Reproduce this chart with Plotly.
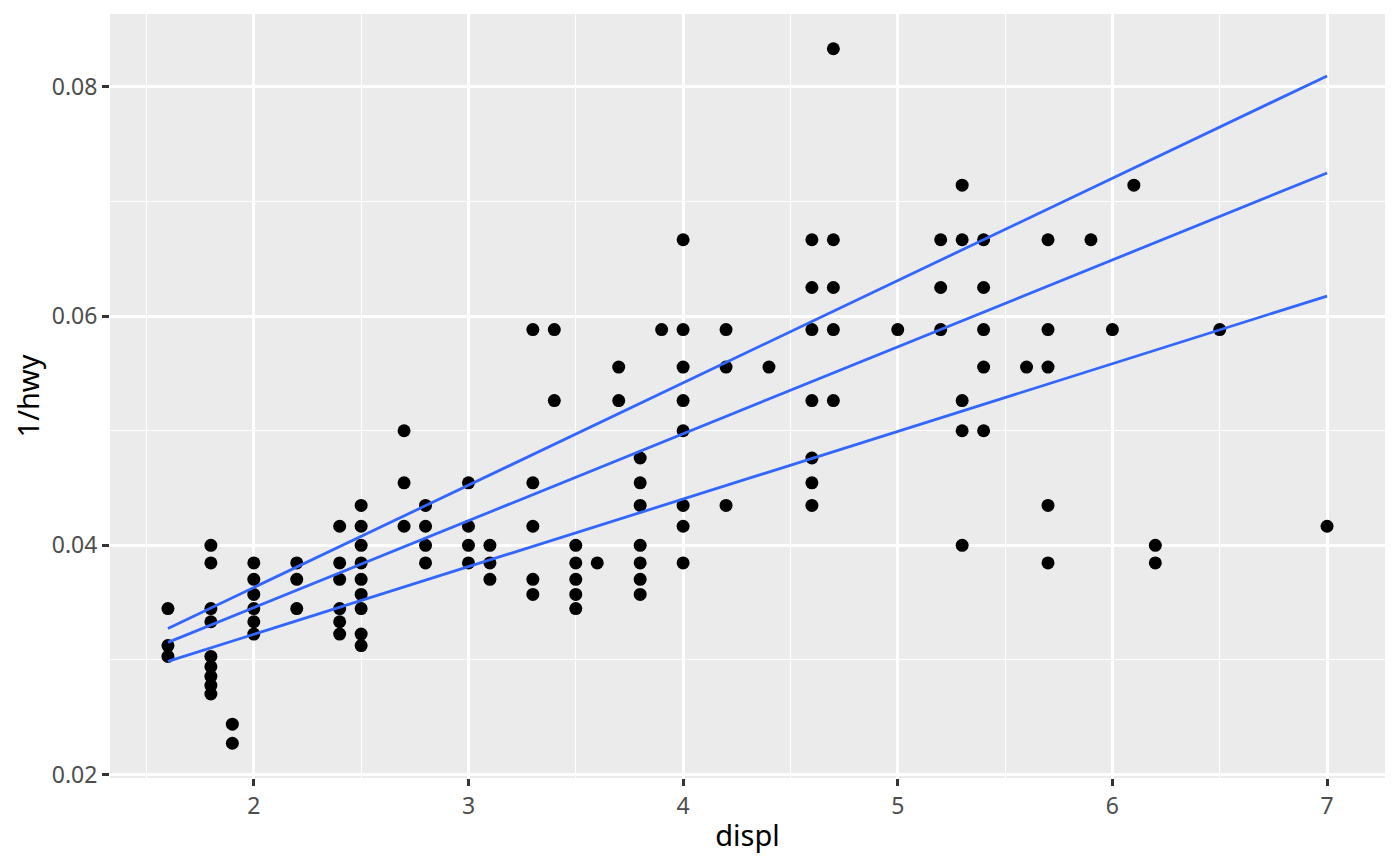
import plotly.graph_objects as go

# Observed (displ, hwy) points; y is plotted as 1/hwy
displ = (
    [1.6] * 3 + [1.8] * 9 + [1.9] * 2 + [2.0] * 6 + [2.2] * 3 + [2.4] * 6 +
    [2.5] * 9 + [2.7] * 3 + [2.8] * 4 + [3.0] * 4 + [3.1] * 3 + [3.3] * 5 +
    [3.4] * 2 + [3.5] * 5 + [3.6] + [3.7] * 2 + [3.8] * 7 + [3.9] +
    [4.0] * 8 + [4.2] * 3 + [4.4] + [4.6] * 7 + [4.7] * 5 + [5.0] +
    [5.2] * 3 + [5.3] * 5 + [5.4] * 5 + [5.6] + [5.7] * 5 + [5.9] + [6.0] +
    [6.1] + [6.2] * 2 + [6.5] + [7.0]
)
hwy = [
    29, 32, 33,
    25, 26, 29, 30, 33, 34, 35, 36, 37,
    41, 44,
    26, 27, 28, 29, 30, 31,
    26, 27, 29,
    24, 26, 27, 29, 30, 31,
    23, 24, 25, 26, 27, 28, 29, 31, 32,
    20, 22, 24,
    23, 24, 25, 26,
    22, 24, 25, 26,
    25, 26, 27,
    17, 22, 24, 27, 28,
    17, 19,
    25, 26, 27, 28, 29,
    26,
    18, 19,
    21, 22, 23, 25, 26, 27, 28,
    17,
    15, 17, 18, 19, 20, 23, 24, 26,
    17, 18, 23,
    18,
    15, 16, 17, 19, 21, 22, 23,
    12, 15, 16, 17, 19,
    17,
    15, 16, 17,
    14, 15, 19, 20, 25,
    15, 16, 17, 18, 20,
    18,
    15, 17, 18, 23, 26,
    15,
    17,
    14,
    25, 26,
    17,
    24,
]

# Quantile regression lines: y = a + b * displ
tau = [0.75, 0.50, 0.25]
intercepts = [0.018465, 0.019394, 0.020424]
slopes = [0.008928, 0.007585, 0.005904]
line_x = [1.6, 7.0]

inv_hwy = [1.0 / h for h in hwy]

fig = go.Figure()
fig.add_trace(go.Scatter(
    x=displ, y=inv_hwy, mode="markers",
    marker=dict(color="black", size=13, line=dict(width=0)),
    showlegend=False, hoverinfo="x+y",
))
for t, a, b in zip(tau, intercepts, slopes):
    fig.add_trace(go.Scatter(
        x=line_x, y=[a + b * xx for xx in line_x], mode="lines",
        line=dict(color="#3366FF", width=2.8),
        showlegend=False, name=f"tau={t}",
    ))

axis_common = dict(
    showgrid=True, gridcolor="white", gridwidth=2.7,
    zeroline=False, showline=False,
    ticks="outside", ticklen=7, tickwidth=2.5, tickcolor="#333333",
    tickfont=dict(family="Noto Sans", size=23, color="#4D4D4D"),
)

fig.update_layout(
    width=1400, height=866,
    paper_bgcolor="white", plot_bgcolor="#EBEBEB",
    margin=dict(l=102, r=23, t=6, b=96),
    font=dict(family="Noto Sans"),
    xaxis=dict(
        range=[1.33, 7.27], tickmode="linear", tick0=2, dtick=1,
        minor=dict(showgrid=True, gridcolor="white", gridwidth=1.35,
                   tick0=1.5, dtick=0.5, ticks=""),
        title=dict(text="displ", font=dict(family="Noto Sans", size=29, color="black"),
                   standoff=6),
        **axis_common,
    ),
    yaxis=dict(
        range=[0.019697, 0.086364], tickmode="array",
        tickvals=[0.02, 0.04, 0.06, 0.08],
        ticktext=["0.02", "0.04", "0.06", "0.08"],
        minor=dict(showgrid=True, gridcolor="white", gridwidth=1.35,
                   tickmode="array", tickvals=[0.03, 0.05, 0.07], ticks=""),
        title=dict(text="1/hwy", font=dict(family="Noto Sans", size=29, color="black"),
                   standoff=8),
        **axis_common,
    ),
)

fig.write_html("out.html")
